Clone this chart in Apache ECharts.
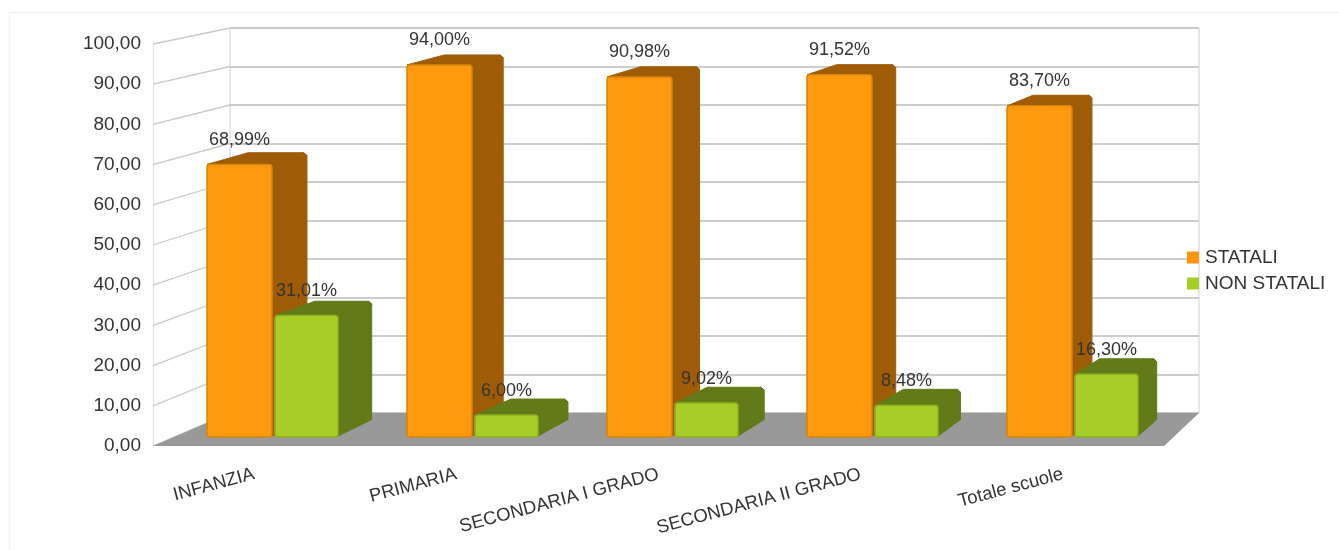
<!DOCTYPE html>
<html>
<head>
<meta charset="utf-8">
<title>Scuole statali e non statali</title>
<script src="https://cdn.jsdelivr.net/npm/echarts@6/dist/echarts.min.js"></script>
<style>
  html, body { margin: 0; background: #fff; }
  #chart { width: 1339px; height: 550px; }
  /* bordo chiaro in alto e a sinistra */
  #frame { position: absolute; left: 9px; top: 12px; right: 0; bottom: 0; border-top: 1px solid #ebebeb; border-left: 1px solid #f3f3f3; pointer-events: none; }
</style>
</head>
<body>
<div id="chart"></div>
<div id="frame"></div>
<script>
  const categories = ['INFANZIA', 'PRIMARIA', 'SECONDARIA I GRADO', 'SECONDARIA II GRADO', 'Totale scuole'];
  const statali = [68.99, 94.00, 90.98, 91.52, 83.70];
  const nonStatali = [31.01, 6.00, 9.02, 8.48, 16.30];
  const yTicks = [0, 10, 20, 30, 40, 50, 60, 70, 80, 90, 100];

  const FONT = '"Liberation Sans", Arial, sans-serif';
  const TEXT = '#333333';
  const FONT_SIZE = 18;

  const chart = echarts.init(document.getElementById('chart'));

  const formatNum = v => v.toFixed(2).replace('.', ',');

  // griglia 2 = parete di fondo, griglia 3 = faccia posteriore delle barre
  const backWall = (x, v) => chart.convertToPixel({ gridIndex: 2 }, [x, v]);
  const barBack = (x, v) => chart.convertToPixel({ gridIndex: 3 }, [x, v]);

  // una barra 3D: x0/x1 sono frazioni della categoria rispetto al centro
  function bar3d(x0, x1, colors) {
    return function (params, api) {
      const i = api.value(0);
      const v = api.value(1);
      const fl = api.coord([i + x0, v]);
      const fr = api.coord([i + x1, v]);
      const fb = api.coord([i + x1, 0]);
      fb[1] -= 2; // la base sta poco sopra lo zero del piano
      const bl = barBack(i + x0 + 0.025, v);
      const br = barBack(i + x1, v);
      const bb = barBack(i + x1, 0);
      bb[1] -= 3;
      return {
        type: 'group',
        children: [
          {
            type: 'polygon',
            shape: { points: [[fr[0] - 2, fr[1]], [br[0] - 3, br[1]], [br[0], br[1] + 3], [bb[0], bb[1]], [fb[0], fb[1] - 1]] },
            style: { fill: colors.side, stroke: colors.side, lineWidth: 1, lineJoin: 'round' }
          },
          {
            type: 'polygon',
            shape: { points: [[fl[0], fl[1]], [bl[0], bl[1]], [br[0] - 3, br[1]], [br[0], br[1] + 3], [fr[0], fr[1]]] },
            style: { fill: colors.side, stroke: colors.side, lineWidth: 1, lineJoin: 'round' }
          },
          {
            type: 'rect',
            shape: { x: fl[0], y: fl[1], width: fr[0] - fl[0], height: fb[1] - fl[1], r: 3 },
            style: { fill: colors.front, stroke: colors.edge, lineWidth: 1.5 }
          },
          {
            type: 'text',
            z2: 50,
            style: {
              x: (fl[0] + fr[0]) / 2,
              y: fl[1] - 24.5,
              text: formatNum(v) + '%',
              fill: TEXT,
              font: FONT_SIZE + 'px ' + FONT,
              align: 'center',
              verticalAlign: 'middle'
            }
          }
        ]
      };
    };
  }

  const orange = { front: '#ff9a0e', edge: '#d8840a', side: '#9e5c06' };
  const green = { front: '#a6ce27', edge: '#8cb020', side: '#637a18' };

  const option = {
    animation: false,
    backgroundColor: '#ffffff',
    textStyle: { fontFamily: FONT },
    legend: {
      orient: 'vertical',
      left: 1182,
      top: 243,
      itemWidth: 12,
      itemHeight: 12,
      itemGap: 7,
      icon: 'rect',
      selectedMode: false,
      data: ['STATALI', 'NON STATALI'],
      textStyle: { color: TEXT, fontSize: 19, fontFamily: FONT, padding: [0, 0, 0, 1] }
    },
    grid: [
      // piano frontale con gli assi visibili
      { left: 153, top: 44, width: 1011, height: 402 },
      // piano frontale delle barre
      { left: 173.5, top: 41, width: 1000, height: 398 },
      // parete di fondo
      { show: true, left: 230, top: 28, width: 969, height: 385, borderColor: '#cfcfcf', borderWidth: 1, backgroundColor: 'transparent' },
      // retro delle barre
      { left: 210.3, top: 31.5, width: 981.25, height: 391 }
    ],
    xAxis: [
      {
        gridIndex: 0,
        type: 'category',
        data: categories,
        axisLine: { show: false },
        axisTick: { show: false },
        axisLabel: { rotate: 15, margin: 28, interval: 0, color: TEXT, fontSize: 18.5, fontFamily: FONT }
      },
      { gridIndex: 1, type: 'value', min: -0.5, max: 4.5, show: false },
      { gridIndex: 2, type: 'value', min: 0, max: 1, show: false },
      { gridIndex: 3, type: 'value', min: -0.5, max: 4.5, show: false }
    ],
    yAxis: [
      {
        gridIndex: 0,
        type: 'value',
        min: 0,
        max: 100,
        interval: 10,
        axisLine: { show: true, lineStyle: { color: '#e4e4e4' } },
        axisTick: { show: false },
        splitLine: { show: false },
        axisLabel: { margin: 12, padding: [6, 0, 0, 0], color: TEXT, fontSize: 19, fontFamily: FONT, formatter: formatNum }
      },
      { gridIndex: 1, type: 'value', min: 0, max: 100, show: false, splitLine: { show: false } },
      {
        gridIndex: 2,
        type: 'value',
        min: 0,
        max: 100,
        interval: 10,
        axisLine: { show: false },
        axisTick: { show: false },
        axisLabel: { show: false },
        splitLine: { show: true, lineStyle: { color: '#bdbdbd', width: 1.6 } }
      },
      { gridIndex: 3, type: 'value', min: 0, max: 100, show: false, splitLine: { show: false } }
    ],
    series: [
      {
        // linee oblique della parete sinistra
        type: 'custom',
        name: 'pareteSinistra',
        xAxisIndex: 0,
        yAxisIndex: 0,
        silent: true,
        clip: false,
        z: 1,
        data: yTicks.map(v => [0, v]),
        renderItem: function (params, api) {
          const v = api.value(1);
          const front = [params.coordSys.x, api.coord([0, v])[1]];
          const back = backWall(0, v);
          return {
            type: 'line',
            shape: { x1: front[0], y1: front[1], x2: back[0], y2: back[1] },
            style: { stroke: '#c9c9c9', lineWidth: 1.3 }
          };
        }
      },
      {
        // pavimento grigio
        type: 'custom',
        name: 'pavimento',
        xAxisIndex: 0,
        yAxisIndex: 0,
        silent: true,
        clip: false,
        z: 2,
        data: [[0, 0]],
        renderItem: function (params, api) {
          const cs = params.coordSys;
          const y0 = api.coord([0, 0])[1];
          return {
            type: 'polygon',
            shape: { points: [[cs.x, y0], [cs.x + cs.width, y0], backWall(1, 0), backWall(0, 0)] },
            style: { fill: '#999999' }
          };
        }
      },
      {
        type: 'custom',
        name: 'STATALI',
        xAxisIndex: 1,
        yAxisIndex: 1,
        clip: false,
        z: 3,
        itemStyle: { color: '#ff950e' },
        data: statali.map((v, i) => [i, v]),
        renderItem: bar3d(-0.3325, -0.0075, orange)
      },
      {
        type: 'custom',
        name: 'NON STATALI',
        xAxisIndex: 1,
        yAxisIndex: 1,
        clip: false,
        z: 4,
        itemStyle: { color: '#a6ce27' },
        data: nonStatali.map((v, i) => [i, v]),
        renderItem: bar3d(0.0075, 0.3225, green)
      }
    ]
  };

  chart.setOption(option);
</script>
</body>
</html>
